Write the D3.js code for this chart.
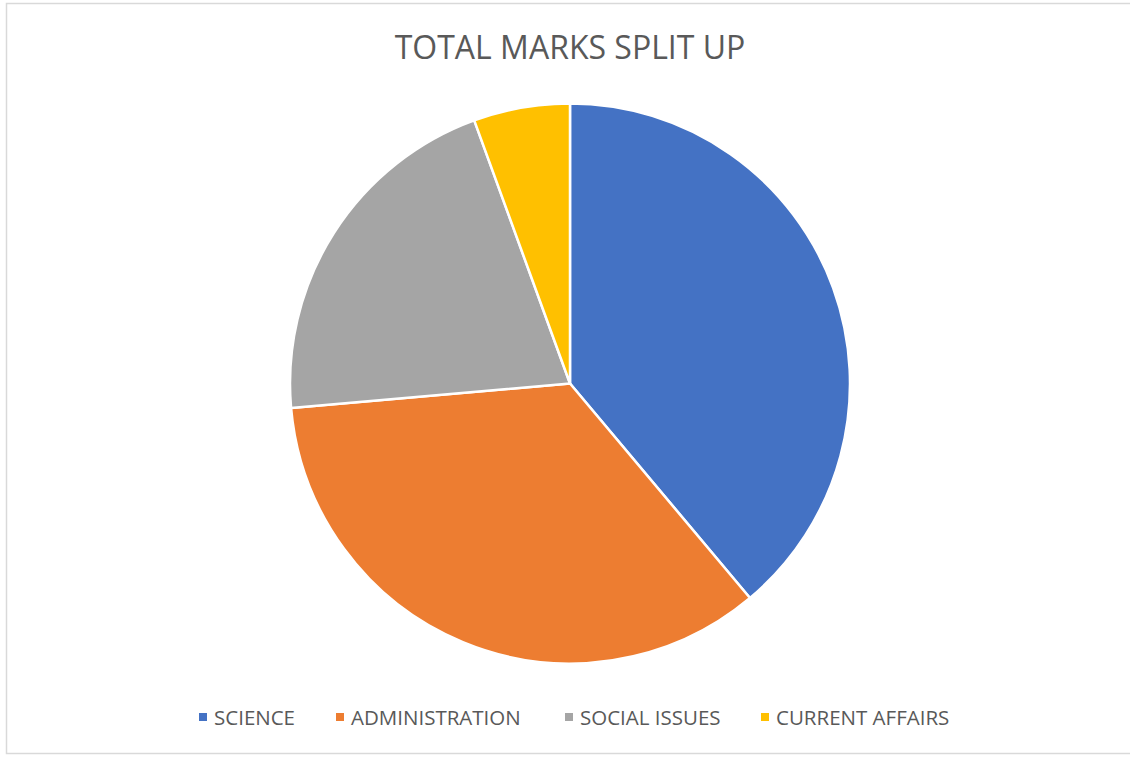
<!DOCTYPE html>
<html><head><meta charset="utf-8">
<script src="https://cdn.jsdelivr.net/npm/d3@7"></script>
<style>body{margin:0;background:#fff;} svg{display:block;}</style>
</head><body>
<svg id="chart" width="1130" height="758"></svg>
<script>
const categories = ["SCIENCE", "ADMINISTRATION", "SOCIAL ISSUES", "CURRENT AFFAIRS"];
const marks = [140, 125, 75, 20];
const colors = ["#4472C4", "#ED7D31", "#A5A5A5", "#FFC000"];
const title = "TOTAL MARKS SPLIT UP";

const svg = d3.select("#chart");
const font = "'Open Sans', 'Liberation Sans', sans-serif";

svg.append("rect").attr("x", 6.5).attr("y", 3.5).attr("width", 1140).attr("height", 750)
  .attr("fill", "#fff").attr("stroke", "#d9d9d9").attr("stroke-width", 1.5);

svg.append("text").attr("x", 570).attr("y", 59).attr("text-anchor", "middle")
  .attr("font-family", font).attr("font-size", 32).attr("fill", "#595959").text(title);

const cx = 570, cy = 383.5, r = 280;
const pie = d3.pie().sort(null).value(d => d);
const arc = d3.arc().innerRadius(0).outerRadius(r);
const color = d3.scaleOrdinal().domain(categories).range(colors);

svg.append("g").attr("transform", `translate(${cx},${cy})`)
  .selectAll("path").data(pie(marks)).join("path")
  .attr("d", arc).attr("fill", (d, i) => color(categories[i]))
  .attr("stroke", "#fff").attr("stroke-width", 2.5).attr("stroke-linejoin", "round");

const legendX = [199, 336, 565, 761];
const lg = svg.append("g");
categories.forEach((c, i) => {
  lg.append("rect").attr("x", legendX[i]).attr("y", 713).attr("width", 8).attr("height", 8).attr("fill", color(c));
  lg.append("text").attr("x", legendX[i] + 15).attr("y", 724.5).attr("font-family", font)
    .attr("font-size", 20.5).attr("fill", "#595959").text(c);
});
</script>
</body></html>
